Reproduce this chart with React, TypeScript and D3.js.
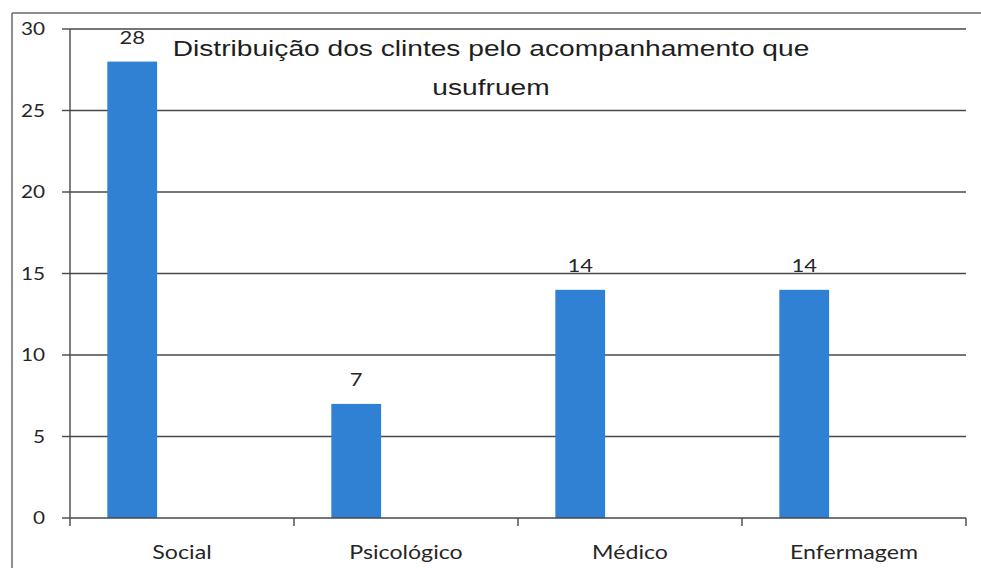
import React from "react";
import * as d3 from "d3";

const categories = ["Social", "Psicológico", "Médico", "Enfermagem"];
const values = [28, 7, 14, 14];
const yTicks = [0, 5, 10, 15, 20, 25, 30];
const titleLines = ["Distribuição dos clintes pelo acompanhamento que", "usufruem"];

const W = 981;
const H = 568;
const SX = 1.22;

export default function App() {
  const x = d3.scaleBand<string>().domain(categories).range([70, 966]).paddingInner(0).paddingOuter(0);
  const bw = x.bandwidth();
  const inner = d3.scaleBand<number>().domain([0, 1, 2]).range([0, bw]).paddingInner(0).paddingOuter(0.75);
  const y = d3.scaleLinear().domain([0, 30]).range([518, 29]);
  const gridColor = "#484848";
  const textColor = "#262626";
  const sFont = "Lato, 'Open Sans', sans-serif";

  return (
    <svg width={W} height={H} style={{ position: "absolute", left: 0, top: 0, background: "#fff" }}>
      <rect x={0} y={0} width={W} height={H} fill="#fff" />
      {/* outer border */}
      <line x1={12} x2={W} y1={13} y2={13} stroke="#6a6a6a" strokeWidth={1.5} />
      <line x1={12} x2={12} y1={13} y2={H} stroke="#6a6a6a" strokeWidth={1.5} />
      {/* gridlines */}
      {yTicks.filter((t) => t > 0).map((t) => (
        <line key={t} x1={70} x2={966} y1={y(t)} y2={y(t)} stroke={gridColor} strokeWidth={1.4} />
      ))}
      {/* y ticks */}
      {yTicks.map((t) => (
        <g key={"yt" + t}>
          <line x1={62} x2={70} y1={y(t)} y2={y(t)} stroke={gridColor} strokeWidth={1.4} />
          <text
            transform={`translate(45,${y(t) + 6}) scale(${SX},1)`}
            textAnchor="end"
            fontFamily={sFont}
            fontSize={17}
            fill={textColor}
          >
            {t}
          </text>
        </g>
      ))}
      {/* y axis */}
      <line x1={70} x2={70} y1={y(30)} y2={y(0)} stroke={gridColor} strokeWidth={1.4} />
      {/* bars */}
      {categories.map((c, i) => (
        <rect
          key={c}
          x={(x(c) as number) + (inner(0) as number)}
          y={y(values[i])}
          width={inner.bandwidth()}
          height={y(0) - y(values[i])}
          fill="#3081d4"
        />
      ))}
      {/* x axis */}
      <line x1={70} x2={966} y1={y(0)} y2={y(0)} stroke={gridColor} strokeWidth={1.4} />
      {[...categories.map((c) => x(c) as number), 966].map((px, i) => (
        <line key={"xt" + i} x1={px} x2={px} y1={y(0)} y2={y(0) + 8} stroke={gridColor} strokeWidth={1.4} />
      ))}
      {/* category labels */}
      {categories.map((c) => (
        <text
          key={"cl" + c}
          transform={`translate(${(x(c) as number) + bw / 2},559) scale(${SX},1)`}
          textAnchor="middle"
          fontFamily={sFont}
          fontSize={19}
          fill={textColor}
        >
          {c}
        </text>
      ))}
      {/* value labels */}
      {categories.map((c, i) => (
        <text
          key={"vl" + c}
          transform={`translate(${(x(c) as number) + (inner(0) as number) + inner.bandwidth() / 2},${y(values[i]) - 18}) scale(${SX},1)`}
          textAnchor="middle"
          fontFamily={sFont}
          fontSize={18}
          fill={textColor}
        >
          {values[i]}
        </text>
      ))}
      {/* title */}
      {titleLines.map((t, i) => (
        <text
          key={"tt" + i}
          transform={`translate(491,${56 + i * 39}) scale(1.28,1)`}
          textAnchor="middle"
          fontFamily="'Liberation Sans', Arial, sans-serif"
          fontSize={22}
          fill="#1e1e1e"
        >
          {t}
        </text>
      ))}
    </svg>
  );
}
